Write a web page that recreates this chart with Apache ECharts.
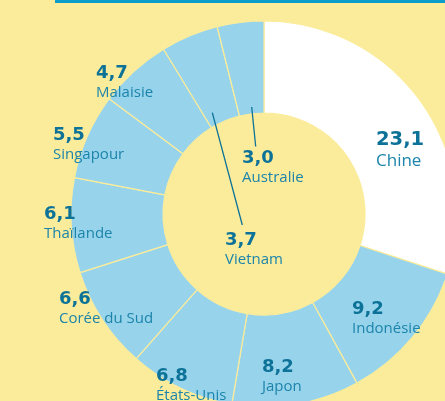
<!DOCTYPE html>
<html><head><meta charset="utf-8">
<script src="https://cdn.jsdelivr.net/npm/echarts@6/dist/echarts.min.js"></script>
<style>html,body{margin:0;padding:0;background:#FBEC9B;}#c{width:445px;height:401px;}</style>
</head><body><div id="c"></div>
<script>
const countries = ['Chine','Indonésie','Japon','États-Unis','Corée du Sud','Thaïlande','Singapour','Malaisie','Vietnam','Australie'];
const values = [23.1, 9.2, 8.2, 6.8, 6.6, 6.1, 5.5, 4.7, 3.7, 3.0];
const labelPos = [[376,128],[352,298],[262,356],[156,365],[59,288],[44,203],[53,124],[96,62],[225,229],[242,147]];

const fmt = v => v.toFixed(1).replace('.', ',');
const data = countries.map((c,i)=>{
  const d = {name:c, value:values[i], itemStyle:{color: i===0 ? '#FFFFFF' : '#97D4EC'}};
  if(i===0){ d.label = {rich:{v:{fontSize:19.5,lineHeight:24},n:{fontSize:17,lineHeight:19}}}; }
  return d;
});
const chart = echarts.init(document.getElementById('c'));
chart.setOption({
  backgroundColor:'#FBEC9B',
  animation:false,
  graphic:[
    {type:'rect', shape:{x:55,y:0,width:390,height:3}, style:{fill:'#0E9DC8'}},
    {type:'line', shape:{x1:251.7,y1:107,x2:255.7,y2:146.5}, style:{stroke:'#0D7298',lineWidth:1.3}, z:10},
    {type:'line', shape:{x1:212.3,y1:112.7,x2:242.3,y2:225}, style:{stroke:'#0D7298',lineWidth:1.3}, z:10}
  ],
  series:[{
    type:'pie',
    center:[264,214],
    radius:[101,193],
    startAngle:90,
    clockwise:true,
    itemStyle:{borderColor:'#FBEC9B',borderWidth:1.2},
    label:{
      show:true,
      position:'inside',
      formatter:p=>'{v|'+fmt(p.value)+'}\n{n|'+p.name+'}',
      rich:{
        v:{fontFamily:'DejaVu Sans',fontWeight:'bold',fontSize:18,lineHeight:22,color:'#0D7298',align:'left'},
        n:{fontFamily:'Open Sans',fontWeight:400,fontSize:15,lineHeight:18,color:'#1C84AA',align:'left'}
      }
    },
    labelLine:{show:false},
    labelLayout:function(params){
      const p = labelPos[params.dataIndex];
      return {x:p[0], y:p[1], align:'left', verticalAlign:'top'};
    },
    emphasis:{disabled:true},
    data:data
  }]
});
</script></body></html>
